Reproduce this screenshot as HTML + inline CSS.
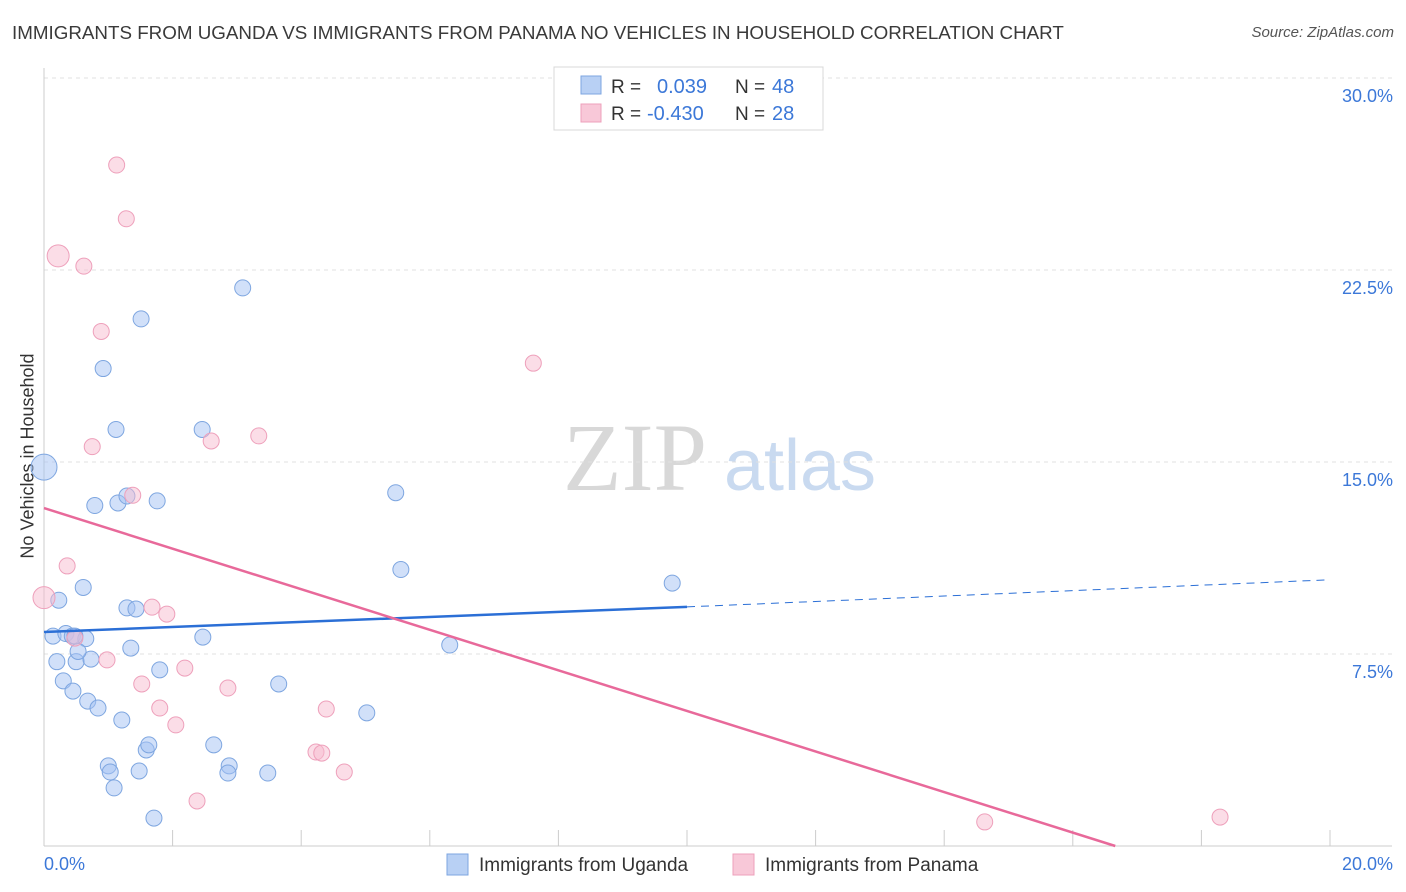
<!DOCTYPE html>
<html><head><meta charset="utf-8">
<style>
body{margin:0;background:#fff;font-family:"Liberation Sans",sans-serif;}
#wrap{position:relative;width:1406px;height:892px;overflow:hidden;}
.t{position:absolute;white-space:nowrap;}
</style></head>
<body>
<div id="wrap">
<div class="t" style="left:12px;top:22px;font-size:18.8px;color:#3a3a3a;">IMMIGRANTS FROM UGANDA VS IMMIGRANTS FROM PANAMA NO VEHICLES IN HOUSEHOLD CORRELATION CHART</div>
<div class="t" style="right:12px;top:24px;font-size:15px;color:#555;font-style:italic;">Source: ZipAtlas.com</div>
<div class="t" style="left:28px;top:456px;font-size:18px;color:#333;transform:translate(-50%,-50%) rotate(-90deg);">No Vehicles in Household</div>
<svg id="svg" width="1406" height="892" style="position:absolute;left:0;top:0"></svg>
</div>
<script>
const xTicks=[0,2,4,6,8,10,12,14,16,18,20];
const yTicks=[7.5,15,22.5,30];
const yTickLabels=["7.5%","15.0%","22.5%","30.0%"];
const ugandaX=[0.0,0.23,0.14,0.34,0.44,0.65,0.2,0.5,0.73,0.53,0.3,0.45,0.68,0.84,1.21,1.0,1.03,1.09,1.48,1.59,1.63,1.71,0.92,1.12,1.51,0.79,1.15,1.29,1.76,0.61,1.29,1.43,1.35,1.8,2.47,2.46,3.09,2.64,2.88,2.86,3.48,3.65,5.02,5.47,5.55,6.31,9.77,0.48];
const ugandaY=[14.8,9.6,8.2,8.3,8.2,8.1,7.2,7.2,7.3,7.6,6.45,6.05,5.66,5.39,4.92,3.13,2.89,2.27,2.93,3.75,3.95,1.09,18.65,16.27,20.59,13.3,13.4,13.67,13.48,10.1,9.3,9.26,7.73,6.88,8.16,16.27,21.8,3.95,3.13,2.85,2.85,6.33,5.2,13.8,10.8,7.85,10.27,8.2];
const panamaX=[0.0,0.22,1.13,1.28,0.62,0.89,0.75,0.36,0.48,1.38,0.98,1.68,1.91,1.52,1.8,2.05,2.19,2.6,3.34,2.86,2.38,4.39,4.23,4.32,4.67,7.61,14.63,18.29];
const panamaY=[9.7,23.05,26.6,24.5,22.65,20.1,15.6,10.94,8.12,13.7,7.27,9.33,9.06,6.33,5.39,4.73,6.95,15.82,16.02,6.17,1.76,5.35,3.67,3.63,2.89,18.86,0.94,1.13];
const ugandaTrend=[[0,8.36],[10,9.34],[20,10.4]];
const panamaTrend=[[0,13.2],[16.66,0]];
const X=v=>44+v*64.3, Y=v=>846-v*25.6;
const svg=document.getElementById('svg');const NS='http://www.w3.org/2000/svg';
function mk(tag,attrs,name){const e=document.createElementNS(NS,tag);for(const k in attrs)e.setAttribute(k,attrs[k]);


svg.appendChild(e);return e;}
function txt(x,y,s,attrs,name){const e=mk('text',Object.assign({x:x,y:y,'font-family':'Liberation Sans, sans-serif'},attrs),name);e.textContent=s;return e;}
txt(635,490,'ZIP',{'font-size':96,fill:'#d8d8d8','font-family':'Liberation Serif, serif','text-anchor':'middle'},'watermark-zip');
txt(800,490,'atlas',{'font-size':72,fill:'#c9daf0','text-anchor':'middle'},'watermark-atlas');
yTicks.forEach((v,i)=>{mk('line',{x1:44,x2:1392,y1:Y(v),y2:Y(v),stroke:'#e0e0e0','stroke-dasharray':'4,4'},'y-gridline');
txt(1393,Y(v)+24,yTickLabels[i],{'font-size':18,fill:'#3c78d8','text-anchor':'end'},'y-tick-label');});
mk('line',{x1:44,x2:44,y1:68,y2:846,stroke:'#cccccc'},'y-axis-line');
mk('line',{x1:44,x2:1392,y1:846,y2:846,stroke:'#cccccc'},'x-axis-line');
xTicks.forEach(v=>mk('line',{x1:X(v),x2:X(v),y1:830,y2:846,stroke:'#cccccc'},'x-tick'));
txt(44,870,'0.0%',{'font-size':18,fill:'#3c78d8'},'x-tick-label-min');
txt(1393,870,'20.0%',{'font-size':18,fill:'#3c78d8','text-anchor':'end'},'x-tick-label-max');
ugandaX.forEach((x,i)=>mk('circle',{cx:X(x),cy:Y(ugandaY[i]),r:i==0?13:8,fill:'rgba(164,194,244,0.5)',stroke:'#7ea6e0','stroke-width':1},'uganda-point'));
panamaX.forEach((x,i)=>mk('circle',{cx:X(x),cy:Y(panamaY[i]),r:(i<2)?11:8,fill:'rgba(248,187,208,0.5)',stroke:'#eea0bb','stroke-width':1},'panama-point'));
mk('line',{x1:X(ugandaTrend[0][0]),y1:Y(ugandaTrend[0][1]),x2:X(ugandaTrend[1][0]),y2:Y(ugandaTrend[1][1]),stroke:'#2b6fd6','stroke-width':2.5},'uganda-trend-line');
mk('line',{x1:X(ugandaTrend[1][0]),y1:Y(ugandaTrend[1][1]),x2:X(ugandaTrend[2][0]),y2:Y(ugandaTrend[2][1]),stroke:'#2b6fd6','stroke-width':1,'stroke-dasharray':'8,6'},'uganda-trend-extension');
mk('line',{x1:X(panamaTrend[0][0]),y1:Y(panamaTrend[0][1]),x2:X(panamaTrend[1][0]),y2:Y(panamaTrend[1][1]),stroke:'#e8699a','stroke-width':2.5},'panama-trend-line');
mk('rect',{x:554,y:67,width:269,height:63,fill:'#fff',stroke:'#d8d8d8'},'stats-legend-box');
mk('rect',{x:581,y:76,width:20,height:18,fill:'#b8d0f4',stroke:'#7ea6e0'},'stats-legend-swatch-uganda');
mk('rect',{x:581,y:104,width:20,height:18,fill:'#f8c8d8',stroke:'#eea0bb'},'stats-legend-swatch-panama');
txt(611,93,'R =',{'font-size':19,fill:'#333'},'stats-r-label');
txt(657,93,'0.039',{'font-size':20,fill:'#3c78d8'},'stats-r-uganda');
txt(735,93,'N =',{'font-size':19,fill:'#333'},'stats-n-label');
txt(772,93,'48',{'font-size':20,fill:'#3c78d8'},'stats-n-uganda');
txt(611,120,'R =',{'font-size':19,fill:'#333'},'stats-r-label');
txt(647,120,'-0.430',{'font-size':20,fill:'#3c78d8'},'stats-r-panama');
txt(735,120,'N =',{'font-size':19,fill:'#333'},'stats-n-label');
txt(772,120,'28',{'font-size':20,fill:'#3c78d8'},'stats-n-panama');
mk('rect',{x:447,y:854,width:21,height:21,fill:'#b8d0f4',stroke:'#7ea6e0'},'legend-swatch-uganda');
txt(479,871,'Immigrants from Uganda',{'font-size':19,fill:'#333'},'legend-label-uganda');
mk('rect',{x:733,y:854,width:21,height:21,fill:'#f8c8d8',stroke:'#eea0bb'},'legend-swatch-panama');
txt(765,871,'Immigrants from Panama',{'font-size':19,fill:'#333'},'legend-label-panama');
</script>
</body></html>
